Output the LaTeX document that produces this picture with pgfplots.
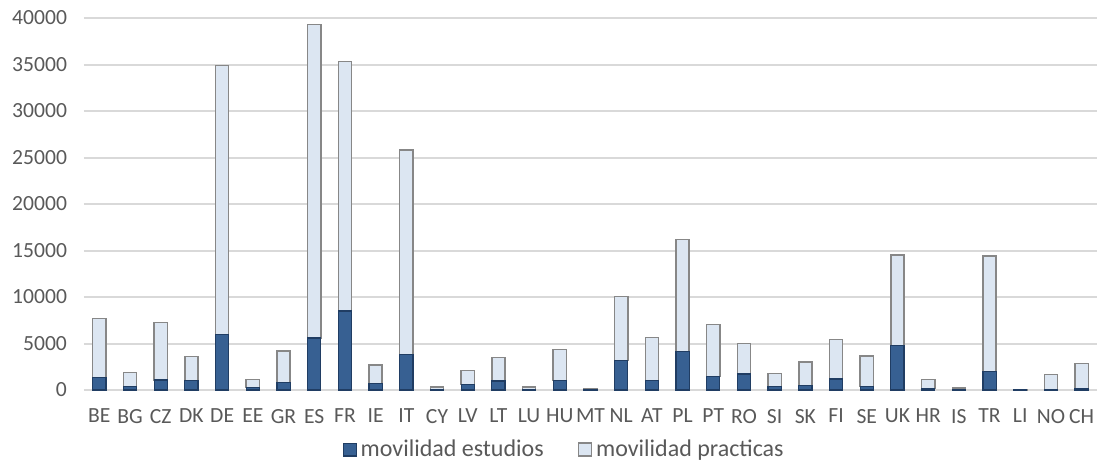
\documentclass[border=0pt]{standalone}
\usepackage{pgfplots}
\usepackage{pgfplotstable}
\pgfplotsset{compat=1.18}
\usepackage{fontspec}
\setmainfont{Carlito}
\definecolor{darkbar}{HTML}{376092}
\definecolor{darkedge}{HTML}{203D63}
\definecolor{lightbar}{HTML}{DCE6F2}
\definecolor{lightedge}{HTML}{878787}
\definecolor{txt}{HTML}{595959}
\definecolor{gridc}{HTML}{D9D9D9}
\pgfplotstableread{
x lab est prac
0 BE 1360 6350
1 BG 360 1540
2 CZ 1080 6200
3 DK 1000 2620
4 DE 5960 28940
5 EE 250 860
6 GR 830 3370
7 ES 5600 33700
8 FR 8500 26800
9 IE 680 2010
10 IT 3800 22000
11 CY 50 270
12 LV 610 1510
13 LT 970 2510
14 LU 50 270
15 HU 1000 3340
16 MT 30 150
17 NL 3160 6890
18 AT 1040 4630
19 PL 4160 12040
20 PT 1470 5560
21 RO 1720 3270
22 SI 390 1370
23 SK 500 2510
24 FI 1180 4270
25 SE 360 3300
26 UK 4810 9720
27 HR 180 930
28 IS 30 190
29 TR 1970 12450
30 LI 10 60
31 NO 60 1590
32 CH 180 2650
}\data
\begin{document}
\begin{tikzpicture}
\path[use as bounding box] (-42pt,-35.5pt) rectangle (507.5pt,195pt);
\begin{axis}[
  scale only axis,
  width=506.5pt, height=186pt,
  ybar stacked,
  bar width=6.6pt,
  xmin=-0.5, xmax=32.5,
  ymin=0, ymax=40000,
  ytick={0,5000,...,40000},
  xtick=data,
  xticklabels from table={\data}{lab},
  major tick length=0pt,
  axis line style={draw=none},
  xmajorgrids=false,
  ymajorgrids=true,
  major grid style={draw=gridc, line width=1pt},
  font=\fontsize{10.8}{12}\selectfont,
  tick label style={text=txt},
  /pgf/number format/assume math mode=true,
  scaled y ticks=false,
  yticklabel style={/pgf/number format/1000 sep={}, xshift=-5pt},
  xticklabel style={yshift=-6pt},
  legend style={
    at={(0.475,-0.16)}, anchor=center,
    draw=none, fill=none,
    legend columns=2,
    font=\fontsize{12}{14}\selectfont,
    text=txt,
    /tikz/every even column/.append style={column sep=15pt},
    nodes={inner xsep=2pt},
  },
  legend image code/.code={\draw[#1] (0pt,-3.2pt) rectangle (6.4pt,3.2pt);},
]
\addplot[fill=darkbar, draw=darkedge, line width=0.6pt] table[x=x, y=est] {\data};
\addlegendentry{movilidad estudios}
\addplot[fill=lightbar, draw=lightedge, line width=0.75pt] table[x=x, y=prac] {\data};
\addlegendentry{movilidad practicas}
\end{axis}
\end{tikzpicture}
\end{document}
